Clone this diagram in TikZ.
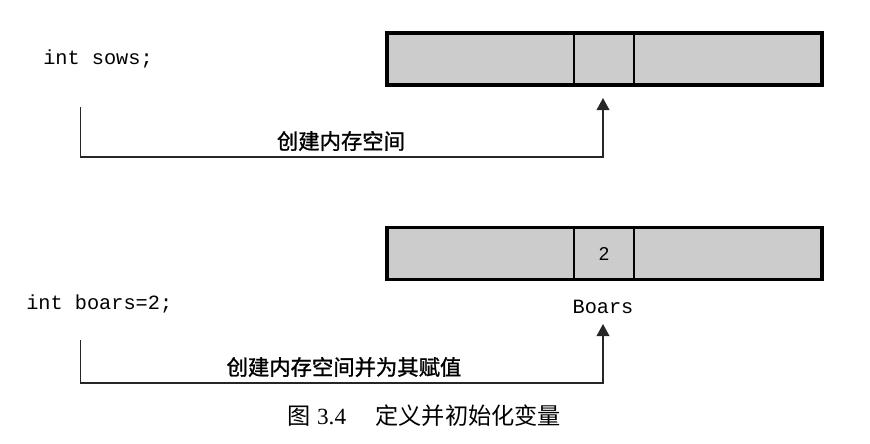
\documentclass[tikz,border=0pt]{standalone}
\usepackage{fontspec}
\setmainfont{Liberation Serif}
\newfontfamily\cjk{Noto Sans CJK SC}
\newfontfamily\cjkm{Noto Sans CJK SC}[FakeBold=1.2]
\newfontfamily\monof{Liberation Mono}
\newfontfamily\sansf{Liberation Sans}
\usetikzlibrary{arrows.meta}
\definecolor{cellgray}{RGB}{204,204,204}
\tikzset{
  cell/.style={draw=black, line width=1.6pt, fill=cellgray, minimum height=39pt, inner sep=0pt, outer sep=0pt},
  codetext/.style={anchor=west, inner sep=0pt, font=\monof\fontsize{15.2}{18}\selectfont},
  labeltext/.style={inner sep=0pt, font=\cjkm\fontsize{16}{19}\selectfont},
  conn/.style={draw=black!85, line width=1.1pt, -{Triangle[width=9.5pt,length=9pt]}},
  frame/.style={draw=black, line width=2.4pt}
}
\begin{document}
\begin{tikzpicture}[x=0.75pt,y=-0.75pt]
\useasboundingbox (0,0) rectangle (870,443);
% top memory
\node[cell, minimum width=140.25pt] (a1) at (480.5,59) {};
\node[cell, minimum width=45pt] (a2) at (604,59) {};
\node[cell, minimum width=141pt] (a3) at (728,59) {};
\draw[frame] (a1.north west) rectangle (a3.south east);
\node[codetext] (sows) at (43,59) {int sows;};
\coordinate (s1) at (80.7,107);
\coordinate (t1) at (603,98);
\draw[conn] (s1) -- ++(0,50) -| (t1);
\node[labeltext] (l1) at (341,141) {创建内存空间};
% bottom memory
\node[cell, minimum width=140.25pt] (b1) at (480.5,253.5) {};
\node[cell, minimum width=45pt] (b2) at (604,253.5) {\sansf\fontsize{14}{16}\selectfont 2};
\node[cell, minimum width=141pt] (b3) at (728,253.5) {};
\draw[frame] (b1.north west) rectangle (b3.south east);
\node[codetext] (boars) at (26,304) {int boars=2;};
\node[inner sep=0pt, font=\monof\fontsize{15.2}{18}\selectfont] (bname) at (603,307) {Boars};
\coordinate (s2) at (80.7,340);
\coordinate (t2) at (603,324);
\draw[conn] (s2) -- ++(0,43) -| (t2);
\node[labeltext] (l2) at (344,367) {创建内存空间并为其赋值};
% caption
\node[anchor=west, inner sep=0pt, font=\fontsize{17.4}{20}\selectfont] (cap) at (287,416)
  {{\cjk 图}\hspace{5pt}3.4\hspace{22pt}{\cjk 定义并初始化变量}};
\end{tikzpicture}
\end{document}
